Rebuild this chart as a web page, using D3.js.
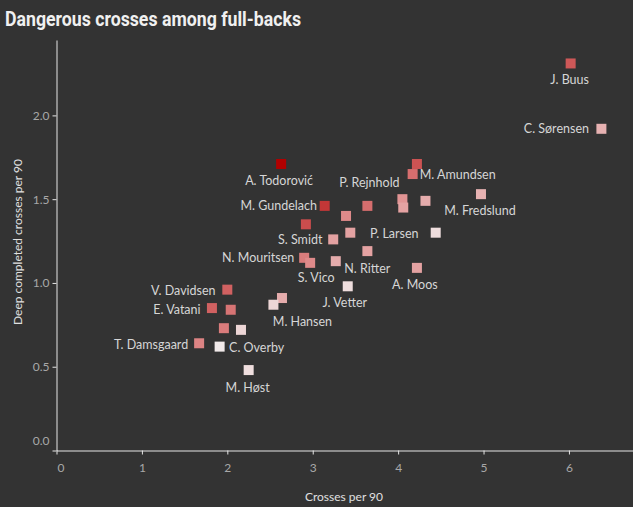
<!DOCTYPE html>
<html>
<head>
<meta charset="utf-8">
<script src="https://cdn.jsdelivr.net/npm/d3@7"></script>
<style>
  body { margin: 0; background: #333333; }
  svg { display: block; }
</style>
</head>
<body>
<div id="chart"></div>
<script>
// ---- data ----
const players = ['J. Buus', 'C. Sørensen', 'A. Todorović', '', 'M. Amundsen', '', '', '', 'M. Fredslund',
  'P. Rejnhold', '', 'M. Gundelach', '', 'S. Smidt', 'P. Larsen', '', 'N. Ritter', 'A. Moos', 'J. Vetter',
  'N. Mouritsen', 'S. Vico', '', 'V. Davidsen', '', 'M. Hansen', 'E. Vatani', '', '', '', 'T. Damsgaard',
  'C. Overby', 'M. Høst'];
const crosses = [6.02, 6.38, 2.63, 4.22, 4.17, 4.05, 4.06, 4.32, 4.97,
  3.64, 3.39, 3.14, 2.92, 3.24, 3.44, 4.44, 3.64, 4.22, 3.41,
  2.90, 2.97, 3.27, 2.00, 2.64, 2.54, 1.82, 2.04, 1.96, 2.16, 1.67,
  1.91, 2.25];
const deepCrosses = [2.31, 1.92, 1.71, 1.71, 1.65, 1.50, 1.45, 1.49, 1.53,
  1.46, 1.40, 1.46, 1.35, 1.26, 1.30, 1.30, 1.19, 1.09, 0.98,
  1.15, 1.12, 1.13, 0.96, 0.91, 0.87, 0.85, 0.84, 0.73, 0.72, 0.64,
  0.62, 0.48];
// colour value (darker = higher)
const shade = [0.68, 0.30, 1.0, 0.70, 0.60, 0.45, 0.38, 0.33, 0.30,
  0.60, 0.50, 0.80, 0.72, 0.38, 0.38, 0.08, 0.38, 0.38, 0.08,
  0.55, 0.50, 0.33, 0.65, 0.33, 0.12, 0.65, 0.58, 0.55, 0.12, 0.52,
  0.02, 0.08];
// label offsets from the square centre
const labelDx = [-1, -45, -2, 0, 45, 0, 0, 0, -1,
  2, 0, -46, 0, -33, 44, 0, 0, -2, -3,
  -46, 6, 0, -44, 0, 29, -35, 0, 0, 0, -48,
  37, -1];
const labelDy = [16, 0, 17, 0, 0, 0, 0, 0, 16,
  -23, 0, 0, 0, 0, 1, 0, 17, 17, 16,
  0, 15, 0, 1, 0, 17, 1, 0, 0, 0, 1,
  1, 17];

const xTicks = [0, 1, 2, 3, 4, 5, 6];
const yTicks = [0, 0.5, 1.0, 1.5, 2.0];

const W = 633, H = 507;
const svg = d3.select('#chart').append('svg').attr('width', W).attr('height', H);

svg.append('text')
  .attr('x', 5).attr('y', 26)
  .attr('font-family', 'Roboto')
  .attr('font-weight', 'bold')
  .attr('font-size', 20)
  .attr('fill', '#f0f0f0')
  .attr('textLength', 296)
  .attr('lengthAdjust', 'spacingAndGlyphs')
  .text('Dangerous crosses among full-backs');

const x = d3.scaleLinear().domain([0, 6.75]).range([56.5, 633]);
const y = d3.scaleLinear().domain([0, 2.45]).range([450.5, 40]);
const color = d3.scaleLinear().domain([0, 0.5, 1]).range(['#f2eeee', '#df8a8a', '#b00000']);

const xAxis = svg.append('g')
  .attr('transform', `translate(0,${y(0)})`)
  .call(d3.axisBottom(x).tickValues(xTicks).tickSize(4).tickSizeOuter(0).tickFormat(d3.format('d')));
const yAxis = svg.append('g')
  .attr('transform', `translate(${x(0)},0)`)
  .call(d3.axisLeft(y).tickValues(yTicks).tickSize(4).tickSizeOuter(0).tickFormat(d3.format('.1f')));

[xAxis, yAxis].forEach(g => {
  g.selectAll('path, line').attr('stroke', '#e6e6e6');
  g.selectAll('text')
    .attr('fill', '#a8a8a8')
    .attr('font-family', 'Lato')
    .attr('font-size', 12);
});
xAxis.selectAll('text').attr('dy', '1.2em');
xAxis.selectAll('.tick').filter(d => d === 0).select('text').attr('dx', 4);
yAxis.selectAll('.tick').filter(d => d === 0).select('text').attr('dy', '-0.5em');

svg.append('text')
  .attr('x', 344).attr('y', 496)
  .attr('text-anchor', 'middle')
  .attr('dominant-baseline', 'central')
  .attr('font-family', 'Lato').attr('font-size', 12)
  .attr('fill', '#e0e0e0')
  .text('Crosses per 90');

svg.append('text')
  .attr('transform', 'translate(17,242) rotate(-90)')
  .attr('text-anchor', 'middle')
  .attr('dominant-baseline', 'central')
  .attr('font-family', 'Lato').attr('font-size', 12)
  .attr('fill', '#e0e0e0')
  .text('Deep completed crosses per 90');

const pts = crosses.map((c, i) => ({ c, d: deepCrosses[i], s: shade[i], name: players[i], dx: labelDx[i], dy: labelDy[i] }));

svg.selectAll('rect.pt')
  .data(pts)
  .enter()
  .append('rect')
  .attr('class', 'pt')
  .attr('x', d => x(d.c) - 5)
  .attr('y', d => y(d.d) - 5)
  .attr('width', 10)
  .attr('height', 10)
  .attr('fill', d => color(d.s));

svg.selectAll('text.lbl')
  .data(pts.filter(d => d.name !== ''))
  .enter()
  .append('text')
  .attr('class', 'lbl')
  .attr('x', d => x(d.c) + d.dx)
  .attr('y', d => y(d.d) + d.dy)
  .attr('text-anchor', 'middle')
  .attr('dominant-baseline', 'central')
  .attr('font-family', 'Lato')
  .attr('font-size', 12.5)
  .attr('fill', '#d6d6d6')
  .text(d => d.name);
</script>
</body>
</html>
